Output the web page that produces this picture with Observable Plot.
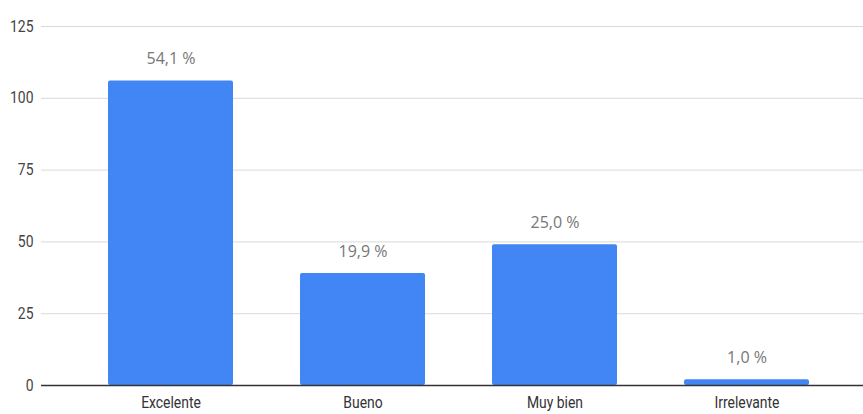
<!DOCTYPE html>
<html>
<head>
<meta charset="utf-8">
<script src="https://cdn.jsdelivr.net/npm/d3@7"></script>
<script src="https://cdn.jsdelivr.net/npm/@observablehq/plot@0.6"></script>
<style>
  html, body { margin: 0; padding: 0; background: #fff; }
  svg { display: block; }
</style>
</head>
<body>
<div id="chart"></div>
<script>
const categories = ["Excelente", "Bueno", "Muy bien", "Irrelevante"];
const counts = [106, 39, 49, 2];
const percentLabels = ["54,1 %", "19,9 %", "25,0 %", "1,0 %"];
const yTicks = [0, 25, 50, 75, 100, 125];

const data = categories.map((c, i) => ({cat: c, value: counts[i], label: percentLabels[i]}));

const axisFont = "Roboto, sans-serif";

const chart = Plot.plot({
  width: 863,
  height: 414,
  marginLeft: 41,
  marginRight: 0,
  marginTop: 26,
  marginBottom: 29,
  style: {fontFamily: axisFont, fontSize: "16px", background: "#fff"},
  x: {domain: categories, range: [41, 875], padding: 0.35, paddingOuter: 0.343, label: null, tickSize: 0, tickPadding: 8},
  y: {domain: [0, 125], ticks: yTicks, label: null, tickSize: 0, tickPadding: 8},
  marks: [
    Plot.ruleY(yTicks.filter(t => t > 0), {stroke: "#d9d9d9", strokeWidth: 1}),
    Plot.barY(data, {x: "cat", y: "value", fill: "#4285F4", rx: 2}),
    Plot.ruleY([0], {stroke: "#333", strokeWidth: 1.5}),
    Plot.text(data, {x: "cat", y: "value", text: "label", dy: -22, fill: "#777", fontSize: 16, fontFamily: "'Open Sans', sans-serif"}),
    Plot.axisY({ticks: yTicks, tickSize: 0, tickPadding: 8, fill: "#444", fontSize: 16, fontFamily: axisFont}),
    Plot.axisX({tickSize: 0, tickPadding: 11, fill: "#333", fontSize: 16, fontFamily: axisFont})
  ]
});
// condense axis tick labels horizontally (reference uses a narrow face)
chart.querySelectorAll('g[aria-label="y-axis tick label"] text, g[aria-label="x-axis tick label"] text').forEach(t => {
  const tr = t.getAttribute("transform") || "";
  t.setAttribute("transform", (tr + " scale(0.87,1)").trim());
});
document.getElementById("chart").appendChild(chart);
</script>
</body>
</html>
